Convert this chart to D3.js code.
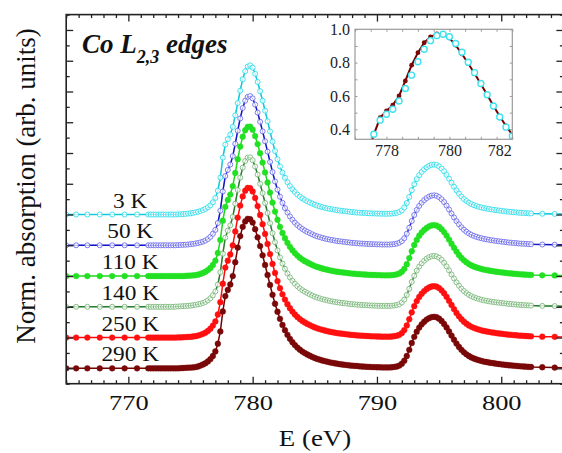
<!DOCTYPE html>
<html><head><meta charset="utf-8">
<script src="https://cdn.jsdelivr.net/npm/d3@7"></script>
<style>
body{margin:0;background:#fff}
svg{display:block}
</style>
</head><body>
<svg id="c" width="562" height="453"></svg>
<script>
// ---------------- DATA ----------------
const energies = [
765.0,765.8,766.7,767.7,768.7,769.7,770.7,
771.6,771.8,772.0,772.2,772.4,772.6,772.8,773.0,773.2,773.4,773.6,773.8,774.0,774.2,774.4,
774.6,774.8,775.0,775.2,775.4,775.6,775.8,776.0,776.2,776.4,776.6,776.8,777.0,777.2,777.4,
777.6,777.8,778.0,778.2,778.4,778.6,778.8,779.0,779.2,779.4,779.6,779.8,780.0,780.2,780.4,
780.6,780.8,781.0,781.2,781.4,781.6,781.8,782.0,782.2,782.4,782.6,782.8,783.0,783.2,783.4,
783.6,783.8,784.0,784.2,784.4,784.6,784.8,785.0,785.2,785.4,785.6,785.8,786.0,786.2,786.4,
786.6,786.8,787.0,787.2,787.4,787.6,787.8,788.0,788.2,788.4,788.6,788.8,789.0,789.2,789.4,
789.6,789.8,790.0,790.2,790.4,790.6,790.8,791.0,791.2,791.4,791.6,791.8,792.0,792.2,792.4,
792.6,792.8,793.0,793.2,793.4,793.6,793.8,794.0,794.2,794.4,794.6,794.8,795.0,795.2,795.4,
795.6,795.8,796.0,796.2,796.4,796.6,796.8,797.0,797.2,797.4,797.6,797.8,798.0,798.2,798.4,
798.6,798.8,799.0,799.2,799.4,799.6,799.8,800.0,800.2,800.4,800.6,800.8,801.0,801.2,801.4,
801.6,801.8,802.0,802.2,802.4,
803.3,804.3,805.3];

const temperatures = ["3 K","50 K","110 K","140 K","250 K","290 K"];
const offsets = [1.0,0.8,0.6,0.4,0.2,0.0];

const abs3K = [0,0,0,0,0,0,0,
0,0,0,0,0,0,0,0,0,0,0,0,0.001,0.002,0.003,
0.004,0.006,0.008,0.011,0.014,0.018,0.023,0.029,0.037,0.047,0.06,0.08,0.108,0.155,0.24,
0.37,0.455,0.49,0.52,0.57,0.645,0.725,0.805,0.88,0.932,0.962,0.97,0.955,0.915,0.862,
0.802,0.74,0.675,0.607,0.54,0.474,0.413,0.36,0.313,0.273,0.239,0.21,0.185,0.164,0.146,
0.13,0.117,0.105,0.095,0.086,0.078,0.071,0.064,0.058,0.053,0.048,0.044,0.04,0.037,0.034,
0.031,0.028,0.026,0.024,0.022,0.02,0.018,0.016,0.015,0.013,0.012,0.011,0.01,0.009,0.008,
0.007,0.007,0.006,0.006,0.005,0.005,0.005,0.005,0.006,0.008,0.011,0.017,0.027,0.046,0.075,
0.114,0.158,0.197,0.23,0.256,0.277,0.294,0.307,0.317,0.323,0.325,0.322,0.313,0.299,0.281,
0.258,0.233,0.207,0.181,0.157,0.136,0.117,0.101,0.088,0.077,0.068,0.061,0.055,0.05,0.046,
0.042,0.039,0.036,0.033,0.031,0.028,0.026,0.024,0.022,0.02,0.018,0.017,0.015,0.014,0.012,
0.011,0.01,0.009,0.008,0.007,
0.005,0.004,0.003];

const abs50K = [0,0,0,0,0,0,0,
0,0,0,0,0,0,0,0,0,0,0,0,0.001,0.002,0.003,
0.004,0.005,0.007,0.009,0.012,0.015,0.019,0.024,0.031,0.041,0.055,0.075,0.1,0.145,0.225,
0.35,0.45,0.49,0.525,0.58,0.66,0.745,0.825,0.893,0.94,0.965,0.97,0.955,0.915,0.863,
0.803,0.741,0.676,0.609,0.542,0.476,0.415,0.362,0.316,0.276,0.242,0.213,0.188,0.166,0.147,
0.131,0.118,0.106,0.096,0.087,0.079,0.071,0.064,0.058,0.053,0.048,0.044,0.04,0.037,0.034,
0.031,0.028,0.026,0.024,0.022,0.02,0.018,0.016,0.015,0.013,0.012,0.011,0.01,0.009,0.008,
0.007,0.007,0.006,0.006,0.005,0.005,0.005,0.005,0.006,0.008,0.011,0.017,0.027,0.046,0.075,
0.114,0.158,0.197,0.23,0.256,0.277,0.294,0.307,0.317,0.323,0.325,0.322,0.313,0.299,0.281,
0.258,0.233,0.207,0.181,0.157,0.136,0.117,0.101,0.088,0.077,0.068,0.061,0.055,0.05,0.046,
0.042,0.039,0.036,0.033,0.031,0.028,0.026,0.024,0.022,0.02,0.018,0.017,0.015,0.014,0.012,
0.011,0.01,0.009,0.008,0.007,
0.005,0.004,0.003];

const abs110K = [0,0,0,0,0,0,0,
0,0,0,0,0,0,0,0,0,0,0,0,0,0,0,
0.001,0.002,0.003,0.004,0.006,0.009,0.014,0.02,0.028,0.039,0.053,0.072,0.1,0.15,0.235,
0.36,0.45,0.495,0.53,0.585,0.67,0.76,0.842,0.906,0.948,0.97,0.971,0.952,0.91,0.858,
0.799,0.738,0.674,0.609,0.543,0.478,0.419,0.366,0.32,0.28,0.246,0.216,0.19,0.168,0.149,
0.133,0.119,0.107,0.097,0.088,0.08,0.072,0.065,0.059,0.054,0.049,0.045,0.041,0.037,0.034,
0.031,0.028,0.026,0.024,0.022,0.02,0.018,0.016,0.015,0.013,0.012,0.011,0.01,0.009,0.008,
0.007,0.007,0.006,0.006,0.005,0.005,0.005,0.005,0.006,0.008,0.011,0.017,0.028,0.047,0.077,
0.117,0.162,0.202,0.235,0.262,0.283,0.3,0.313,0.323,0.329,0.331,0.328,0.319,0.305,0.286,
0.263,0.237,0.21,0.184,0.159,0.137,0.118,0.102,0.089,0.078,0.069,0.062,0.056,0.051,0.046,
0.042,0.039,0.036,0.033,0.031,0.028,0.026,0.024,0.022,0.02,0.018,0.017,0.015,0.014,0.012,
0.011,0.01,0.009,0.008,0.007,
0.005,0.004,0.003];

const abs140K = [0,0,0,0,0,0,0,
0,0,0,0,0,0,0,0,0,0,0,0.001,0.002,0.003,0.004,
0.005,0.006,0.008,0.01,0.013,0.016,0.02,0.025,0.032,0.042,0.056,0.075,0.1,0.145,0.225,
0.345,0.45,0.495,0.53,0.585,0.67,0.76,0.84,0.905,0.948,0.97,0.972,0.953,0.912,0.86,
0.8,0.739,0.675,0.61,0.544,0.479,0.42,0.367,0.321,0.281,0.247,0.217,0.191,0.169,0.15,
0.134,0.12,0.108,0.098,0.089,0.081,0.073,0.066,0.06,0.055,0.05,0.046,0.042,0.038,0.035,
0.032,0.029,0.027,0.025,0.023,0.021,0.019,0.017,0.016,0.014,0.013,0.012,0.011,0.01,0.009,
0.008,0.008,0.007,0.007,0.006,0.006,0.006,0.006,0.007,0.009,0.012,0.017,0.028,0.047,0.077,
0.117,0.162,0.202,0.235,0.262,0.283,0.3,0.313,0.323,0.329,0.331,0.328,0.319,0.305,0.286,
0.263,0.237,0.21,0.184,0.159,0.137,0.118,0.102,0.089,0.078,0.069,0.062,0.056,0.051,0.046,
0.042,0.039,0.036,0.033,0.031,0.029,0.027,0.025,0.023,0.021,0.019,0.018,0.016,0.015,0.013,
0.012,0.011,0.01,0.009,0.008,
0.006,0.005,0.004];

const abs250K = [0,0,0,0,0,0,0,
0,0,0,0,0,0,0,0,0,0,0,0,0.001,0.001,0.002,
0.003,0.004,0.005,0.007,0.009,0.013,0.018,0.024,0.032,0.043,0.058,0.078,0.105,0.15,0.23,
0.35,0.455,0.5,0.54,0.6,0.69,0.78,0.858,0.918,0.955,0.973,0.972,0.95,0.908,0.855,
0.797,0.737,0.674,0.609,0.543,0.479,0.42,0.367,0.321,0.281,0.247,0.217,0.191,0.169,0.15,
0.134,0.12,0.108,0.098,0.089,0.081,0.073,0.066,0.06,0.055,0.05,0.046,0.042,0.038,0.035,
0.032,0.029,0.027,0.025,0.023,0.021,0.019,0.017,0.016,0.014,0.013,0.012,0.011,0.01,0.009,
0.008,0.008,0.007,0.007,0.006,0.006,0.006,0.006,0.007,0.009,0.012,0.018,0.029,0.049,0.079,
0.119,0.164,0.204,0.237,0.264,0.285,0.302,0.316,0.326,0.332,0.334,0.331,0.322,0.307,0.288,
0.265,0.239,0.212,0.185,0.16,0.138,0.119,0.103,0.09,0.079,0.07,0.063,0.057,0.052,0.047,
0.043,0.04,0.037,0.034,0.032,0.029,0.027,0.025,0.023,0.021,0.019,0.018,0.016,0.015,0.013,
0.012,0.011,0.01,0.009,0.008,
0.006,0.005,0.004];

const abs290K = [0,0,0,0,0,0,0,
0,0,0,0,0,0,0,0,0,0,0,0,0,0.001,0.002,
0.003,0.004,0.005,0.006,0.008,0.012,0.018,0.025,0.033,0.045,0.06,0.08,0.11,0.16,0.24,
0.37,0.47,0.51,0.545,0.6,0.69,0.785,0.86,0.92,0.955,0.972,0.97,0.948,0.905,0.852,
0.795,0.735,0.672,0.607,0.542,0.478,0.42,0.368,0.322,0.282,0.248,0.218,0.192,0.17,0.151,
0.135,0.121,0.109,0.099,0.09,0.082,0.074,0.067,0.061,0.056,0.051,0.047,0.043,0.039,0.036,
0.033,0.03,0.027,0.025,0.023,0.021,0.019,0.017,0.016,0.015,0.013,0.012,0.011,0.01,0.009,
0.008,0.008,0.007,0.007,0.006,0.006,0.006,0.006,0.007,0.009,0.012,0.018,0.03,0.05,0.08,
0.12,0.165,0.205,0.238,0.265,0.286,0.303,0.317,0.327,0.333,0.335,0.332,0.323,0.308,0.289,
0.266,0.24,0.213,0.186,0.161,0.139,0.12,0.104,0.091,0.08,0.071,0.064,0.058,0.053,0.048,
0.044,0.041,0.038,0.035,0.033,0.03,0.028,0.026,0.024,0.022,0.02,0.019,0.017,0.016,0.014,
0.013,0.012,0.011,0.01,0.009,
0.007,0.005,0.004];

const xTickMajor = [770,780,790,800];
const insetXTicks = [778,780,782];
const insetYTicks = [0.4,0.6,0.8,1.0];
const titleMain = "Co L", titleSub = "2,3", titleRest = " edges";
const xLabel = "E (eV)";
const yLabel = "Norm. absorption (arb. units)";

// ---------------- STYLE ----------------
const FONT = "Liberation Serif";
const seriesValues = [abs3K, abs50K, abs110K, abs140K, abs250K, abs290K];
const styles = [
  {line:"#18c8dc", stroke:"#3fe2ee", fill:"#ffffff", open:true},
  {line:"#1414c8", stroke:"#7a7af0", fill:"#ffffff", open:true},
  {line:"#1ed81e", stroke:"#22e022", fill:"#22e022", open:false},
  {line:"#2a7d32", stroke:"#86c086", fill:"#ffffff", open:true},
  {line:"#ff0a0a", stroke:"#ff1010", fill:"#ff1010", open:false},
  {line:"#740000", stroke:"#7a0808", fill:"#7a0808", open:false}
];

const svg = d3.select("#c");
const M = {l:66.2, r:563.4, t:14.6, b:383.7};
const x = d3.scaleLinear().domain([765,805]).range([M.l, M.r]);
const y = d3.scaleLinear().domain([-0.1,2.3]).range([M.b, M.t]);

const defs = svg.append("defs");
defs.append("clipPath").attr("id","clipMain").append("rect")
  .attr("x",M.l).attr("y",M.t).attr("width",M.r-M.l).attr("height",M.b-M.t);

// series
const plot = svg.append("g").attr("clip-path","url(#clipMain)");
const line = d3.line().x(d=>x(d.e)).y(d=>y(d.v));
seriesValues.forEach((vals,k)=>{
  const pts = energies.map((e,i)=>({e, v: vals[i] + offsets[k]}));
  const st = styles[k];
  const g = plot.append("g");
  g.append("path").datum(pts).attr("d",line).attr("fill","none")
    .attr("stroke",st.line).attr("stroke-width",1.5);
  g.selectAll("circle").data(pts).join("circle")
    .attr("cx",d=>x(d.e)).attr("cy",d=>y(d.v))
    .attr("r", st.open ? 2.5 : 2.9)
    .attr("fill", st.fill)
    .attr("stroke", st.stroke)
    .attr("stroke-width", st.open ? 1 : 0.4);
  if (st.open) {
    g.append("path").datum(pts).attr("d",line).attr("fill","none")
      .attr("stroke",st.line).attr("stroke-opacity",0.35).attr("stroke-width",1);
  }
});

// axes frame and ticks
const axisColor = "#222";
function styleAxis(g){
  g.attr("font-family",null);
  g.select(".domain").remove();
  g.selectAll("line").attr("stroke",axisColor).attr("stroke-width",1.3);
}
const xMinor = d3.range(765,806,1).filter(v=>v%10!==0);
const yMinor = d3.range(-1,24,1).map(v=>v/10).filter(v=>Math.round(v*10)%2!==0);
const yMajor = d3.range(0,24,2).map(v=>v/10);

svg.append("g").attr("transform",`translate(0,${M.b})`)
  .call(d3.axisBottom(x).tickValues(xMinor).tickSize(-3.5).tickFormat(""))
  .call(styleAxis);
const xb = svg.append("g").attr("transform",`translate(0,${M.b})`)
  .call(d3.axisBottom(x).tickValues(xTickMajor).tickSize(-7).tickPadding(11).tickFormat(d3.format("d")))
  .call(styleAxis);
xb.selectAll("text").style("font-family",FONT).attr("font-size",22).attr("fill","#111")
  .attr("transform","scale(1.2,1)");
svg.append("g").attr("transform",`translate(0,${M.t})`)
  .call(d3.axisTop(x).tickValues(xMinor).tickSize(-3.5).tickFormat("")).call(styleAxis);
svg.append("g").attr("transform",`translate(0,${M.t})`)
  .call(d3.axisTop(x).tickValues(xTickMajor).tickSize(-7).tickFormat("")).call(styleAxis);
svg.append("g").attr("transform",`translate(${M.l},0)`)
  .call(d3.axisLeft(y).tickValues(yMinor).tickSize(-3.5).tickFormat("")).call(styleAxis);
svg.append("g").attr("transform",`translate(${M.l},0)`)
  .call(d3.axisLeft(y).tickValues(yMajor).tickSize(-7).tickFormat("")).call(styleAxis);
svg.append("g").attr("transform",`translate(${M.r},0)`)
  .call(d3.axisRight(y).tickValues(yMinor).tickSize(-3.5).tickFormat("")).call(styleAxis);
svg.append("g").attr("transform",`translate(${M.r},0)`)
  .call(d3.axisRight(y).tickValues(yMajor).tickSize(-7).tickFormat("")).call(styleAxis);
svg.append("rect").attr("x",M.l).attr("y",M.t).attr("width",M.r-M.l).attr("height",M.b-M.t)
  .attr("fill","none").attr("stroke",axisColor).attr("stroke-width",1.6);

// axis titles
svg.append("text").attr("transform","translate(315,446) scale(1.12,1)").attr("text-anchor","middle")
  .style("font-family",FONT).attr("font-size",24).attr("fill","#111").text(xLabel);
svg.append("text").attr("transform","translate(35,186) rotate(-90)")
  .attr("text-anchor","middle").style("font-family",FONT).attr("font-size",27).attr("fill","#111").text(yLabel);

// temperature labels
temperatures.forEach((t,k)=>{
  svg.append("text").attr("transform",`translate(${x(770.15)},${y(offsets[k])-7}) scale(1.06,1)`)
    .attr("text-anchor","middle").style("font-family",FONT).attr("font-size",22).attr("fill","#111").text(t);
});

// title
const tt = svg.append("text").attr("x",82).attr("y",53).style("font-family",FONT)
  .attr("font-size",27).attr("font-weight","bold").attr("font-style","italic").attr("fill","#111");
tt.append("tspan").text(titleMain);
tt.append("tspan").attr("font-size",18).attr("dy",10).text(titleSub);
tt.append("tspan").attr("dy",-10).text(titleRest);

// ---------------- INSET ----------------
const IX = {l:355, r:512.3, t:29.3, b:139.3};
const ix = d3.scaleLinear().domain([777,782]).range([IX.l, IX.r]);
const iy = d3.scaleLinear().domain([0.34,1.0]).range([IX.b, IX.t]);
defs.append("clipPath").attr("id","clipInset").append("rect")
  .attr("x",IX.l).attr("y",IX.t).attr("width",IX.r-IX.l).attr("height",IX.b-IX.t);
svg.append("rect").attr("x",IX.l).attr("y",IX.t).attr("width",IX.r-IX.l).attr("height",IX.b-IX.t)
  .attr("fill","#fff");
const ip = svg.append("g").attr("clip-path","url(#clipInset)");
const iline = d3.line().x(d=>ix(d.e)).y(d=>iy(d.v));
const pts290 = energies.map((e,i)=>({e, v: abs290K[i]}));
const pts3 = energies.map((e,i)=>({e, v: abs3K[i]}));
ip.append("path").datum(pts290).attr("d",iline).attr("fill","none").attr("stroke","#740000").attr("stroke-width",2);
ip.selectAll("circle.r").data(pts290).join("circle").attr("class","r")
  .attr("cx",d=>ix(d.e)).attr("cy",d=>iy(d.v)).attr("r",2.4).attr("fill","#7a0808");
ip.selectAll("circle.c").data(pts3).join("circle").attr("class","c")
  .attr("cx",d=>ix(d.e)).attr("cy",d=>iy(d.v)).attr("r",3)
  .attr("fill","#fff").attr("stroke","#3fe2ee").attr("stroke-width",1.4);

const inColor = "#9a9a9a";
function styleInset(g){ g.attr("font-family",null); g.select(".domain").remove(); g.selectAll("line").attr("stroke",inColor).attr("stroke-width",1); }
const ixMinor = d3.range(777,782.01,0.5);
const iyMinor = d3.range(4,10.01,1).map(v=>v/10);
svg.append("g").attr("transform",`translate(0,${IX.b})`)
  .call(d3.axisBottom(ix).tickValues(ixMinor).tickSize(-2.5).tickFormat("")).call(styleInset);
svg.append("g").attr("transform",`translate(0,${IX.t})`)
  .call(d3.axisTop(ix).tickValues(ixMinor).tickSize(-2.5).tickFormat("")).call(styleInset);
svg.append("g").attr("transform",`translate(${IX.l},0)`)
  .call(d3.axisLeft(iy).tickValues(iyMinor).tickSize(-2.5).tickFormat("")).call(styleInset);
svg.append("g").attr("transform",`translate(${IX.r},0)`)
  .call(d3.axisRight(iy).tickValues(iyMinor).tickSize(-2.5).tickFormat("")).call(styleInset);
const ixa = svg.append("g").attr("transform",`translate(0,${IX.b})`)
  .call(d3.axisBottom(ix).tickValues(insetXTicks).tickSize(0).tickPadding(5).tickFormat(d3.format("d")))
  .call(styleInset);
ixa.selectAll("text").style("font-family",FONT).attr("font-size",16).attr("fill","#222");
ixa.selectAll("text").filter(d=>d===782).attr("text-anchor","end").attr("dx",-1);
const iya = svg.append("g").attr("transform",`translate(${IX.l},0)`)
  .call(d3.axisLeft(iy).tickValues(insetYTicks).tickSize(0).tickPadding(5).tickFormat(d3.format(".1f")))
  .call(styleInset);
iya.selectAll("text").style("font-family",FONT).attr("font-size",16).attr("fill","#222");
svg.append("rect").attr("x",IX.l).attr("y",IX.t).attr("width",IX.r-IX.l).attr("height",IX.b-IX.t)
  .attr("fill","none").attr("stroke",inColor).attr("stroke-width",1.2);
</script>
</body></html>
